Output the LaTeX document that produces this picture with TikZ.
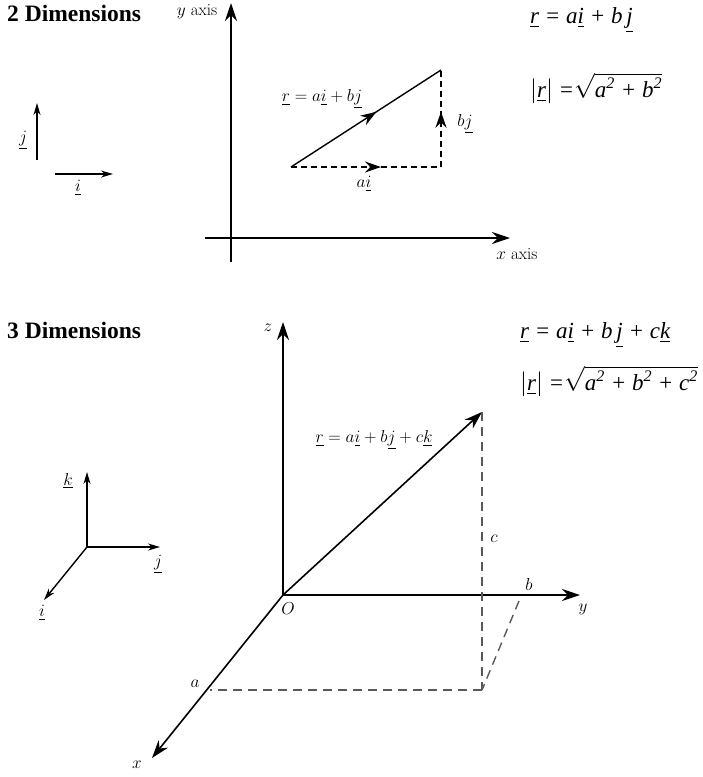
\documentclass[tikz,border=0pt]{standalone}
\usepackage{fontspec}
\usepackage{amsmath}
\usetikzlibrary{arrows.meta,decorations.markings}
\newfontfamily\tnr{Liberation Serif}
\newcommand{\uv}[1]{\underline{#1}}

\begin{document}
\begin{tikzpicture}[x=1pt,y=-1pt,
    axis/.style ={line width=1.6pt, -{Stealth[length=18pt,width=12pt]}},
    unitvec/.style ={line width=1.4pt, -{Stealth[length=12pt,width=7pt]}},
    guide/.style ={line width=1.4pt, dash pattern=on 6pt off 4pt},
    guidegray/.style ={line width=1.4pt, gray!70!black, dash pattern=on 9pt off 6pt},
    lbl/.style ={font=\fontsize{17}{20}\selectfont, inner sep=0pt},
    heading/.style ={font=\tnr\bfseries\fontsize{23.5}{28}\selectfont, anchor=base west, inner sep=0pt},
    formula/.style ={font=\tnr\fontsize{23}{28}\selectfont, anchor=west, inner sep=0pt},
    midarrow/.style ={postaction={decorate,decoration={markings,
        mark=at position #1 with {\arrow{Stealth[length=16pt,width=11pt]}}}}}]
   \useasboundingbox (0,0) rectangle (703,777);

   % 2 dimensions
   \node[heading] (title2) at (7,21) {2 Dimensions};
   \coordinate (xstart) at (205,238);
   \coordinate (xend) at (510,238);
   \coordinate (ystart) at (231,262);
   \coordinate (yend) at (231,3);
   \draw[axis] (xstart) -- (xend);
   \draw[axis] (ystart) -- (yend);
   \node[lbl] (ylab) at (197,12) {$y$ axis};
   \node[lbl] (xlab) at (517,254) {$x$ axis};

   \coordinate (P) at (291,167);
   \coordinate (Q) at (441,167);
   \coordinate (R) at (441,70);
   \draw[line width=1.4pt, midarrow=0.57] (P) -- (R);
   \draw[guide, midarrow=0.6] (P) -- (Q);
   \draw[guide, midarrow=0.57] (Q) -- (R);
   \node[lbl] (rlab2) at (322,99) {$\uv{r}=a\uv{i}+b\uv{j}$};
   \node[lbl] (ailab) at (364,184) {$a\uv{i}$};
   \node[lbl] (bjlab) at (465,124) {$b\uv{j}$};

   \coordinate (j0) at (37,160);
   \coordinate (j1) at (37,103);
   \coordinate (i0) at (55,174);
   \coordinate (i1) at (113,174);
   \draw[unitvec] (j0) -- (j1);
   \draw[unitvec] (i0) -- (i1);
   \node[lbl] (jlab2) at (23,140) {$\uv{j}$};
   \node[lbl] (ilab2) at (78,188) {$\uv{i}$};

   \node[formula] (eq1) at (530,20) {\itshape\uv{r} = a\uv{i} + b\,\uv{j}};
   \node[formula] (eq2) at (530,88) {\itshape$\left|\text{\itshape\uv{r}}\right|$ =$\sqrt{\text{\itshape a\textsuperscript{2} + b\textsuperscript{2}}}$};

   % 3 dimensions
   \node[heading] (title3) at (7,338) {3 Dimensions};
   \coordinate (O) at (283,595);
   \coordinate (ztip) at (283,322);
   \coordinate (ytip) at (580,595);
   \coordinate (xtip) at (152,758);
   \coordinate (rtip) at (482,412);
   \draw[axis] (O) -- (ztip);
   \draw[axis] (O) -- (ytip);
   \draw[axis] (O) -- (xtip);
   \draw[axis] (O) -- (rtip);

   \coordinate (corner) at (482,690);
   \coordinate (apoint) at (210,690);
   \coordinate (bpoint) at (519,601);
   \draw[guidegray] (rtip) -- (corner);
   \draw[guidegray] (corner) -- (apoint);
   \draw[guidegray] (bpoint) -- (corner);

   \node[lbl] (Olab) at (288,609) {$O$};
   \node[lbl] (zlab) at (268,328) {$z$};
   \node[lbl] (ylab3) at (583,609) {$y$};
   \node[lbl] (xlab3) at (137,765) {$x$};
   \node[lbl] (rlab3) at (374,440) {$\uv{r}=a\uv{i}+b\uv{j}+c\uv{k}$};
   \node[lbl] (clab) at (494,539) {$c$};
   \node[lbl] (blab) at (529,584) {$b$};
   \node[lbl] (alab) at (195,684) {$a$};

   \coordinate (b0) at (87,547);
   \coordinate (k1) at (87,472);
   \coordinate (j3) at (160,547);
   \coordinate (i3) at (44,600);
   \draw[unitvec] (b0) -- (k1);
   \draw[unitvec] (b0) -- (j3);
   \draw[unitvec] (b0) -- (i3);
   \node[lbl] (klab) at (68,481) {$\uv{k}$};
   \node[lbl] (jlab3) at (158,564) {$\uv{j}$};
   \node[lbl] (ilab3) at (42,613) {$\uv{i}$};

   \node[formula] (eq3) at (520,335) {\itshape\uv{r} = a\uv{i} + b\,\uv{j} + c\uv{k}};
   \node[formula] (eq4) at (520,381) {\itshape$\left|\text{\itshape\uv{r}}\right|$ =$\sqrt{\text{\itshape a\textsuperscript{2} + b\textsuperscript{2} + c\textsuperscript{2}}}$};
 \end{tikzpicture}
\end{document}
